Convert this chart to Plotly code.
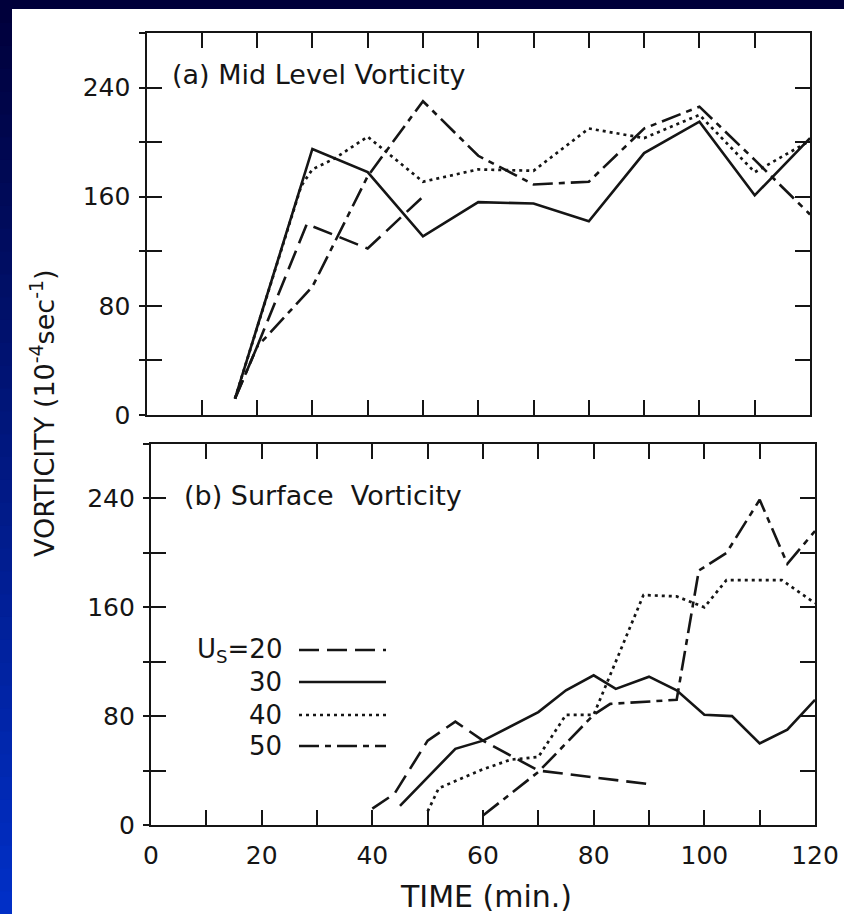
import plotly.graph_objects as go

W, H = 844, 914

# ---------------- data ----------------
# (a) Mid level vorticity
time_a_20 = [16, 20, 29, 40, 50]
vort_a_20 = [12, 50, 140, 122, 160]
time_a_30 = [16, 30, 40, 50, 60, 70, 80, 90, 100, 110, 120]
vort_a_30 = [12, 195, 178, 131, 156, 155, 142, 192, 215, 161, 203]
time_a_40 = [16, 28, 30, 34, 40, 50, 60, 70, 80, 90, 100, 110, 120]
vort_a_40 = [12, 168, 180, 188, 204, 171, 180, 179, 210, 203, 220, 178, 201]
time_a_50 = [16, 20, 30, 40, 50, 60, 70, 80, 90, 100, 110, 120]
vort_a_50 = [12, 50, 94, 175, 230, 190, 169, 171, 210, 226, 187, 147]

# (b) Surface vorticity
time_b_20 = [40, 44, 50, 55, 60, 70, 80, 90]
vort_b_20 = [12, 23, 62, 76, 62, 40, 35, 30]
time_b_30 = [45, 50, 55, 60, 70, 75, 80, 84, 90, 95, 100, 105, 110, 115, 120]
vort_b_30 = [14, 35, 56, 62, 83, 99, 110, 100, 109, 99, 81, 80, 60, 70, 92]
time_b_40 = [50, 52, 60, 65, 70, 75, 80, 89, 95, 100, 104, 114, 120]
vort_b_40 = [10, 27, 41, 48, 50, 81, 81, 169, 168, 160, 180, 180, 163]
time_b_50 = [60, 70, 80, 83, 95, 99, 104, 110, 115, 120]
vort_b_50 = [7, 39, 81, 89, 92, 187, 200, 239, 192, 216]

x_major_ticks = [0, 20, 40, 60, 80, 100, 120]
x_minor_ticks = list(range(0, 121, 10))
y_major_ticks = [0, 80, 160, 240]
y_minor_ticks = list(range(0, 281, 40))

legend_labels = ["U<sub>S</sub>=20", "30", "40", "50"]

# ---------------- styles ----------------
INK = "#151515"
FONT = "DejaVu Sans"
styles = {
    "20": dict(color=INK, width=2.6, dash="20px,8px"),
    "30": dict(color=INK, width=2.6),
    "40": dict(color=INK, width=2.7, dash="3px,4px"),
    "50": dict(color=INK, width=2.6, dash="20px,6px,6px,6px"),
}


def px(x):
    return x / W


def py(y):
    return 1 - y / H


fig = go.Figure()

for t, v, k in [(time_a_20, vort_a_20, "20"), (time_a_30, vort_a_30, "30"),
                (time_a_40, vort_a_40, "40"), (time_a_50, vort_a_50, "50")]:
    fig.add_trace(go.Scatter(x=t, y=v, mode="lines", line=styles[k],
                             xaxis="x", yaxis="y", showlegend=False, hoverinfo="skip"))

for t, v, k in [(time_b_20, vort_b_20, "20"), (time_b_30, vort_b_30, "30"),
                (time_b_40, vort_b_40, "40"), (time_b_50, vort_b_50, "50")]:
    fig.add_trace(go.Scatter(x=t, y=v, mode="lines", line=styles[k],
                             xaxis="x2", yaxis="y2", showlegend=False, hoverinfo="skip"))

# dummy traces so the overlay axes (outer tick stubs) are drawn
fig.add_trace(go.Scatter(x=[None], y=[None], xaxis="x", yaxis="y3", showlegend=False))
fig.add_trace(go.Scatter(x=[None], y=[None], xaxis="x2", yaxis="y4", showlegend=False))

tickstyle = dict(ticks="inside", ticklen=15, tickwidth=2, tickcolor=INK)
xcommon = dict(range=[0, 120], tickmode="array", tickvals=x_major_ticks,
               minor=dict(tickmode="array", tickvals=x_minor_ticks, **tickstyle),
               showline=True, linewidth=2.2, linecolor=INK, mirror="ticks",
               showgrid=False, zeroline=False, automargin=False,
               tickfont=dict(family=FONT, size=25, color=INK), **tickstyle)
ycommon = dict(range=[0, 280], tickmode="array", tickvals=y_major_ticks,
               minor=dict(tickmode="array", tickvals=y_minor_ticks, **tickstyle),
               showline=True, linewidth=2.2, linecolor=INK, mirror="ticks",
               showgrid=False, zeroline=False, ticklabelstandoff=9, automargin=False,
               tickfont=dict(family=FONT, size=25, color=INK), **tickstyle)
ystub = dict(range=[0, 280], tickmode="array", tickvals=y_minor_ticks, ticks="outside",
             ticklen=7, tickwidth=2, tickcolor=INK, showticklabels=False, automargin=False,
             showline=False, showgrid=False, zeroline=False, side="left")

layout = dict(
    width=W, height=H, autosize=False,
    margin=dict(l=0, r=0, t=0, b=0, pad=0, autoexpand=False),
    paper_bgcolor="white", plot_bgcolor="white",
    xaxis=dict(xcommon, domain=[px(146.5), px(810)], anchor="y", showticklabels=False),
    yaxis=dict(ycommon, domain=[py(415), py(33)], anchor="x"),
    xaxis2=dict(xcommon, domain=[px(151), px(815)], anchor="y2", ticklabelstandoff=7),
    yaxis2=dict(ycommon, domain=[py(825), py(444)], anchor="x2"),
    yaxis3=dict(ystub, overlaying="y", anchor="x"),
    yaxis4=dict(ystub, overlaying="y2", anchor="x2"),
)
fig.update_layout(**layout)

annotations = [
    dict(text="(a) Mid Level Vorticity", x=px(170), y=py(74), xanchor="left", yanchor="middle",
         font=dict(family=FONT, size=27, color=INK)),
    dict(text="(b) Surface&nbsp; Vorticity", x=px(182), y=py(495), xanchor="left", yanchor="middle",
         font=dict(family=FONT, size=27, color=INK)),
    dict(text="VORTICITY (10<sup>-4</sup>sec<sup>-1</sup>)", x=px(42), y=py(413),
         xanchor="center", yanchor="middle", textangle=-90,
         font=dict(family=FONT, size=27, color=INK)),
    dict(text="TIME (min.)", x=px(486), y=py(896), xanchor="center", yanchor="middle",
         font=dict(family=FONT, size=30, color=INK)),
]
legend_y = [650, 682, 715, 746]
for lab, yy in zip(legend_labels, legend_y):
    annotations.append(dict(text=lab, x=px(284), y=py(yy), xanchor="right", yanchor="middle",
                            font=dict(family=FONT, size=26, color=INK)))
for a in annotations:
    a.update(xref="paper", yref="paper", showarrow=False)
fig.update_layout(annotations=annotations)

shapes = []
for k, yy in zip(["20", "30", "40", "50"], legend_y):
    shapes.append(dict(type="line", xref="paper", yref="paper",
                       x0=px(299), x1=px(386), y0=py(yy), y1=py(yy), line=styles[k]))

shapes.append(dict(type="rect", xref="paper", yref="paper", x0=0, x1=1, y0=py(9), y1=1,
                   fillcolor="#00003a", line=dict(width=0), layer="below"))
N = 40
c0 = (0, 0, 58)
c1 = (2, 48, 200)
for i in range(N):
    f = (i + 0.5) / N
    col = "rgb(%d,%d,%d)" % tuple(int(a + (b - a) * f) for a, b in zip(c0, c1))
    y_top = H * i / N
    y_bot = H * (i + 1) / N + 1
    shapes.append(dict(type="rect", xref="paper", yref="paper", x0=0, x1=px(12),
                       y0=py(min(y_bot, H)), y1=py(y_top), fillcolor=col,
                       line=dict(width=0), layer="below"))
fig.update_layout(shapes=shapes)

fig.write_html("out.html", config={"displayModeBar": False, "responsive": False},
               post_script="document.body.style.margin='0px';document.body.style.overflow='hidden';")
